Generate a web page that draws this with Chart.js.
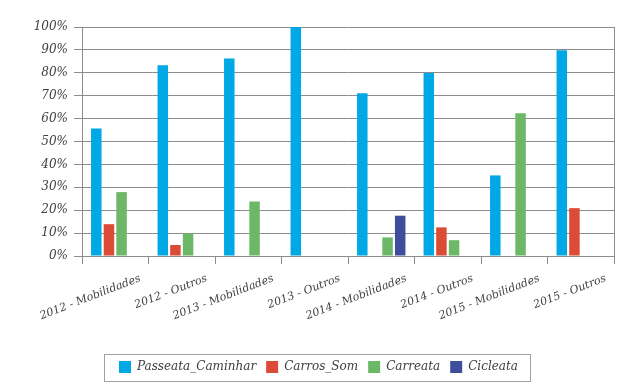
<!DOCTYPE html>
<html lang="pt">
<head>
    <meta charset="UTF-8">
    <title>Mobilidades</title>
    <script src="https://cdn.jsdelivr.net/npm/chart.js"></script>
    <style>
        body {
            margin: 0;
            background: #ffffff;
        }

        .chart-box {
            width: 627px;
            height: 392px;
        }
    </style>
</head>
<body>
    <div class="chart-box">
        <canvas id="grafico"></canvas>
    </div>

    <script>
        // dados (percentuais)
        const categorias = [
            '2012 - Mobilidades', '2012 - Outros', '2013 - Mobilidades', '2013 - Outros',
            '2014 - Mobilidades', '2014 - Outros', '2015 - Mobilidades', '2015 - Outros'
        ];
        const passeataCaminhar = [55.7, 83.3, 86.2, 100, 71.1, 79.9, 35.2, 89.9];
        const carrosSom = [13.9, 4.8, 0, 0, 0, 12.5, 0, 20.9];
        const carreata = [27.9, 9.8, 23.8, 0, 8.1, 6.9, 62.3, 0];
        const cicleata = [0, 0, 0, 0, 17.6, 0, 0, 0];
        const ticksY = [0, 10, 20, 30, 40, 50, 60, 70, 80, 90, 100];

        const corGrade = '#8c8c8c';
        const corTexto = '#404040';

        // moldura da direita e caixa da legenda
        const moldura = {
            id: 'moldura',
            afterDraw(chart) {
                const { ctx, chartArea: a } = chart;
                ctx.save();
                ctx.strokeStyle = corGrade;
                ctx.lineWidth = 1;
                ctx.beginPath();
                ctx.moveTo(Math.round(a.right) + 0.5, a.top);
                ctx.lineTo(Math.round(a.right) + 0.5, a.bottom);
                ctx.stroke();

                const boxes = chart.legend.legendHitBoxes;
                if (boxes && boxes.length) {
                    const left = Math.min(...boxes.map(b => b.left)) - 15;
                    const right = Math.max(...boxes.map(b => b.left + b.width)) + 12;
                    const top = chart.legend.top + 3;
                    const bottom = chart.legend.bottom - 2;
                    ctx.strokeStyle = '#a0a0a0';
                    ctx.strokeRect(Math.round(left) + 0.5, Math.round(top) + 0.5,
                        Math.round(right - left), Math.round(bottom - top));
                }
                ctx.restore();
            }
        };

        const ctx = document.getElementById('grafico').getContext('2d');
        new Chart(ctx, {
            type: 'bar',
            data: {
                labels: categorias,
                datasets: [
                    { label: 'Passeata_Caminhar', data: passeataCaminhar, backgroundColor: '#00a8e6' },
                    { label: 'Carros_Som', data: carrosSom, backgroundColor: '#dc4b35' },
                    { label: 'Carreata', data: carreata, backgroundColor: '#6cb866' },
                    { label: 'Cicleata', data: cicleata, backgroundColor: '#3e4d9c' }
                ]
            },
            options: {
                responsive: true,
                maintainAspectRatio: false,
                animation: false,
                devicePixelRatio: 1,
                categoryPercentage: 0.76,
                barPercentage: 0.83,
                layout: {
                    padding: { top: 27, right: 13, bottom: 9, left: 23 }
                },
                plugins: {
                    tooltip: { enabled: false },
                    legend: {
                        position: 'bottom',
                        labels: {
                            boxWidth: 12,
                            boxHeight: 12,
                            padding: 10,
                            color: corTexto,
                            font: { family: 'DejaVu Serif', style: 'italic', size: 12 }
                        }
                    }
                },
                scales: {
                    x: {
                        grid: {
                            offset: true,
                            drawOnChartArea: false,
                            drawTicks: true,
                            tickLength: 8,
                            color: corGrade
                        },
                        border: { display: true, color: corGrade },
                        ticks: {
                            minRotation: 21,
                            maxRotation: 21,
                            autoSkip: false,
                            labelOffset: 25,
                            padding: 8,
                            color: corTexto,
                            font: { family: 'DejaVu Serif', style: 'italic', size: 11 }
                        },
                        afterFit(axis) { axis.height = 95; }
                    },
                    y: {
                        min: 0,
                        max: 100,
                        afterBuildTicks(axis) { axis.ticks = ticksY.map(v => ({ value: v })); },
                        grid: {
                            color: corGrade,
                            tickLength: 8
                        },
                        border: { display: true, color: corGrade },
                        ticks: {
                            padding: 6,
                            color: corTexto,
                            font: { family: 'DejaVu Serif', style: 'italic', size: 12 },
                            callback: v => v + '%'
                        },
                        afterFit(axis) { axis.width = 59; }
                    }
                }
            },
            plugins: [moldura]
        });
    </script>
</body>
</html>
